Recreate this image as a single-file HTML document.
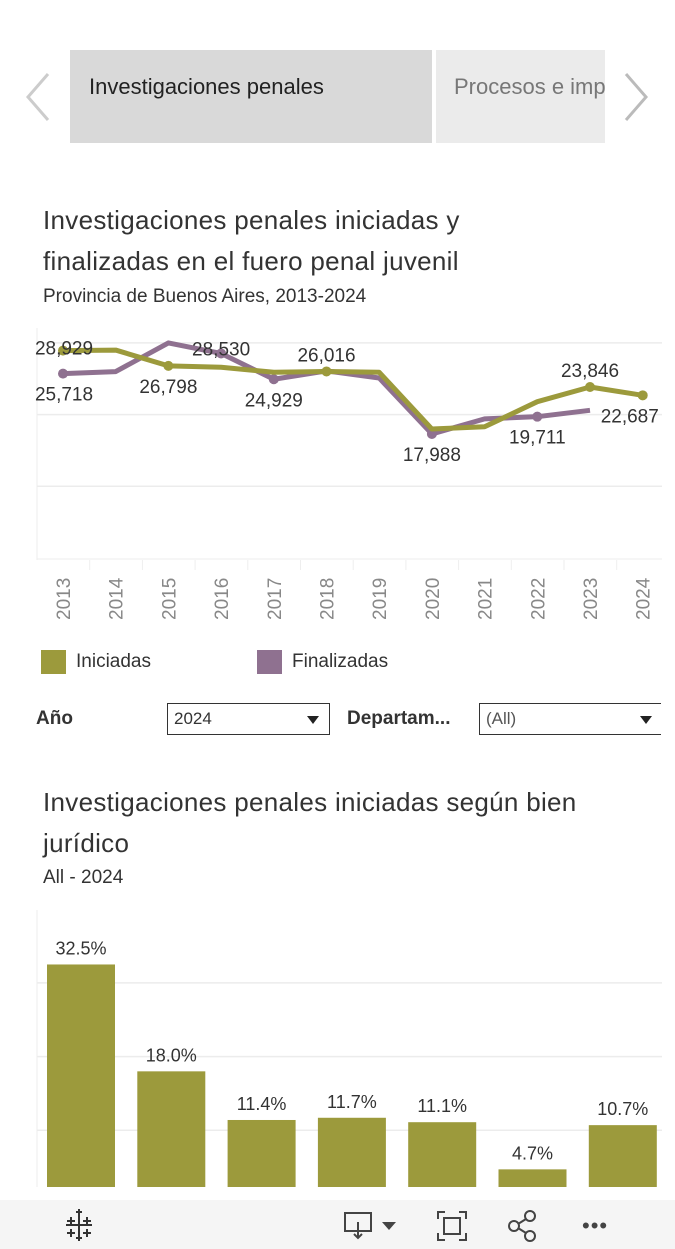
<!DOCTYPE html>
<html><head><meta charset="utf-8">
<style>
body{margin:0;width:675px;height:1249px;overflow:hidden;background:#fff;font-family:"Liberation Sans",sans-serif;position:relative;color:#333}
.abs{position:absolute}
.title{font-size:26px;color:#333;line-height:41px;letter-spacing:0.3px}
.sub{font-size:19px;color:#333}
.sel{border:1px solid #333;height:32px;box-sizing:border-box;font-size:17px;padding:5px 6px;color:#333}
.arr{position:absolute;top:12px;border-left:6px solid transparent;border-right:6px solid transparent;border-top:8px solid #222}
</style></head><body>
<div class="abs" style="left:22px;top:70px"><svg width="30" height="54"><polyline points="26,4 6,27 26,50" fill="none" stroke="#ccc" stroke-width="3"/></svg></div>
<div class="abs" style="left:70px;top:50px;width:362px;height:93px;background:#d9d9d9;font-size:22px;line-height:74px;padding-left:19px;box-sizing:border-box;color:#222">Investigaciones penales</div>
<div class="abs" style="left:436px;top:50px;width:169px;height:93px;background:#ebebeb;font-size:22px;line-height:74px;padding-left:18px;box-sizing:border-box;color:#777;overflow:hidden;white-space:nowrap">Procesos e imputados</div>
<div class="abs" style="left:622px;top:70px"><svg width="30" height="54"><polyline points="4,4 24,27 4,50" fill="none" stroke="#bbb" stroke-width="3"/></svg></div>

<div class="abs title" style="left:43px;top:200px">Investigaciones penales iniciadas y<br>finalizadas en el fuero penal juvenil</div>
<div class="abs sub" style="left:43px;top:286px">Provincia de Buenos Aires, 2013-2024</div>

<svg class="abs" id="lc" style="left:0;top:320px" width="675" height="320"></svg>

<div class="abs" style="left:41px;top:650px;font-size:19px;line-height:24px"><span style="display:inline-block;width:25px;height:24px;background:#9c9a3c;vertical-align:top;margin-right:10px"></span>Iniciadas</div>
<div class="abs" style="left:257px;top:650px;font-size:19px;line-height:24px"><span style="display:inline-block;width:25px;height:24px;background:#8f7190;vertical-align:top;margin-right:10px"></span>Finalizadas</div>

<div class="abs" style="left:36px;top:708px;font-size:19px;font-weight:bold;color:#333">Año</div>
<div class="abs sel" style="left:167px;top:703px;width:163px">2024<span class="arr" style="right:10px"></span></div>
<div class="abs" style="left:347px;top:708px;font-size:19px;font-weight:bold;color:#333">Departam...</div>
<div class="abs sel" style="left:479px;top:703px;width:190px;color:#555">(All)<span class="arr" style="left:160px"></span></div>
<div class="abs" style="left:661px;top:700px;width:14px;height:40px;background:#fff"></div>

<div class="abs title" style="left:43px;top:782px">Investigaciones penales iniciadas según bien<br>jurídico</div>
<div class="abs sub" style="left:43px;top:867px">All - 2024</div>

<svg class="abs" id="bc" style="left:0;top:900px" width="675" height="287"></svg>

<div class="abs" style="left:0;top:1200px;width:675px;height:49px;background:#f5f5f5">
<svg class="abs" style="left:62px;top:8px" width="34" height="34"><g stroke="#333" stroke-width="2"><path d="M17 4v26M4 17h26M9 9v8M5 13h8M25 9v8M21 13h8M9 21v8M5 25h8M25 21v8M21 25h8M17 1v6M14 4h6M17 27v6M14 30h6"/></g></svg>
<svg class="abs" style="left:343px;top:10px" width="56" height="32"><rect x="2" y="3" width="26" height="18" fill="none" stroke="#444" stroke-width="2"/><path d="M15 12v16M11 24l4 4 4-4" fill="none" stroke="#444" stroke-width="2"/><path d="M39 12h14l-7 8z" fill="#444"/></svg>
<svg class="abs" style="left:436px;top:10px" width="32" height="32"><path d="M2 9V2h7M23 2h7v7M30 23v7h-7M9 30H2v-7" fill="none" stroke="#444" stroke-width="2"/><rect x="8" y="8" width="16" height="16" fill="none" stroke="#444" stroke-width="2"/></svg>
<svg class="abs" style="left:507px;top:9px" width="32" height="34"><circle cx="23" cy="7" r="5" fill="none" stroke="#444" stroke-width="2"/><circle cx="7" cy="17" r="5" fill="none" stroke="#444" stroke-width="2"/><circle cx="23" cy="27" r="5" fill="none" stroke="#444" stroke-width="2"/><path d="M11 15l8-5M11 19l8 5" stroke="#444" stroke-width="2"/></svg>
<div class="abs" style="left:582px;top:13px;font-size:22px;color:#444;letter-spacing:1px">•••</div>
</div>

<script>
const years=["2013","2014","2015","2016","2017","2018","2019","2020","2021","2022","2023","2024"];
const iniciadas=[28929,29000,26798,26600,25900,26016,25900,17988,18300,21800,23846,22687];
const finalizadas=[25718,26000,30000,28530,24929,26100,25100,17300,19400,19711,20600,null];
const yTicks=[10000,20000,30000];
const labelsIni=[[0,"28,929",-1],[2,"26,798",1],[5,"26,016",-1],[10,"23,846",-1],[11,"22,687",1]];
const labelsFin=[[0,"25,718",1],[3,"28,530",-1],[4,"24,929",1],[7,"17,988",1],[9,"19,711",1]];
const barCats=["c1","c2","c3","c4","c5","c6","c7"];
const barVals=[32.5,18.0,11.4,11.7,11.1,4.7,10.7];
const barTicks=[10,20,30];

const NS="http://www.w3.org/2000/svg";
function mk(p,t,a){const e=document.createElementNS(NS,t);for(const k in a)e.setAttribute(k,a[k]);p.appendChild(e);return e;}
const lc=document.getElementById('lc');
const x=i=>63+i*52.7;
const y=v=>238-v*0.00717;
mk(lc,'line',{x1:37,y1:8,x2:37,y2:240,stroke:'#eee'});
yTicks.forEach(t=>{const g=mk(lc,'line',{x1:37,x2:662,y1:y(t),y2:y(t),stroke:'#ececec','stroke-width':1.5});

});
mk(lc,'line',{x1:37,x2:662,y1:239,y2:239,stroke:'#eee'});
years.forEach((yr,i)=>{
 if(i>0){mk(lc,'line',{x1:x(i)-26,x2:x(i)-26,y1:240,y2:250,stroke:'#eee'});}
 const t=mk(lc,'text',{x:0,y:0,transform:`translate(${x(i)+7},${300}) rotate(-90)`,'font-size':19,fill:'#888','font-family':'Liberation Sans'});
 t.textContent=yr;
 
 
});
function series(vals,col,name){
 let d='';vals.forEach((v,i)=>{if(v!=null)d+=(d?'L':'M')+x(i)+' '+y(v);});
 const p=mk(lc,'path',{d,fill:'none',stroke:col,'stroke-width':5,'stroke-linejoin':'round'});
 
 
}
function dots(vals,col,idx,name){idx.forEach(l=>{const c=mk(lc,'circle',{cx:x(l[0]),cy:y(vals[l[0]]),r:5,fill:col});
 
 });}
series(finalizadas,'#8f7190','finalizadas');dots(finalizadas,'#8f7190',labelsFin,'finalizadas');
series(iniciadas,'#9c9a3c','iniciadas');dots(iniciadas,'#9c9a3c',labelsIni,'iniciadas');
function labs(vals,L){L.forEach(l=>{const i=l[0];let tx=x(i),anchor='middle';
 let dy=l[2]<0?-10:27;
 if(i==0){tx=x(i)+1; if(l[2]<0)dy=4;}
 if(i==3)dy=2;
 if(i==11){tx=x(i)-42;anchor='start';}
 const t=mk(lc,'text',{x:tx,y:y(vals[i])+dy,'text-anchor':anchor,'font-size':19,fill:'#333','font-family':'Liberation Sans'});
 t.textContent=l[1];
 
 });}
labs(iniciadas,labelsIni);labs(finalizadas,labelsFin);
const bc=document.getElementById('bc');
const by=v=>304-v*7.37;
mk(bc,'line',{x1:37,x2:37,y1:10,y2:300,stroke:'#eee'});
barTicks.forEach(t=>{const g=mk(bc,'line',{x1:37,x2:662,y1:by(t),y2:by(t),stroke:'#ececec','stroke-width':1.5});
 
 });
barVals.forEach((v,i)=>{const bx=47+i*90.3;
 const r=mk(bc,'rect',{x:bx,y:by(v),width:68,height:304-by(v),fill:'#9c9a3c'});
 
 
 const t=mk(bc,'text',{x:bx+34,y:by(v)-10,'text-anchor':'middle','font-size':18,fill:'#333','font-family':'Liberation Sans'});
 t.textContent=v.toFixed(1)+'%';
 
 
});
</script>
</body></html>
